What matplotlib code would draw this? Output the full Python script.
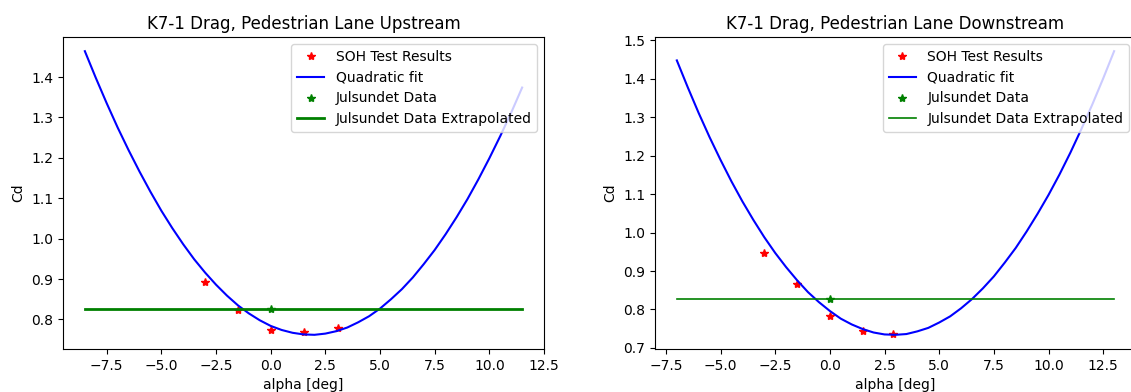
import numpy as np
import matplotlib
matplotlib.use("Agg")
import matplotlib.pyplot as plt

# Upstream panel
up_alpha = [-3.0, -1.5, 0.0, 1.5, 3.1]
up_cd = [0.892, 0.824, 0.775, 0.769, 0.779]
up_fit_alpha = [-8.5, -8, -7.5, -7, -6.5, -6, -5.5, -5, -4.5, -4, -3.5, -3, -2.5, -2,
                -1.5, -1, -0.5, 0, 0.5, 1, 1.5, 2, 2.5, 3, 3.5, 4, 4.5, 5, 5.5, 6,
                6.5, 7, 7.5, 8, 8.5, 9, 9.5, 10, 10.5, 11, 11.5]
up_fit_cd = [1.464, 1.398, 1.335, 1.275, 1.219, 1.166, 1.116, 1.069, 1.026, 0.986, 0.949,
             0.916, 0.886, 0.859, 0.835, 0.815, 0.798, 0.784, 0.774, 0.767, 0.763, 0.762,
             0.765, 0.771, 0.780, 0.793, 0.808, 0.827, 0.850, 0.875, 0.904, 0.937, 0.972,
             1.011, 1.053, 1.098, 1.147, 1.199, 1.254, 1.312, 1.374]
up_juls_alpha = [0.0]
up_juls_cd = [0.825]
up_extrap_alpha = [-8.5, 11.5]
up_extrap_cd = [0.825, 0.825]

# Downstream panel
down_alpha = [-3.0, -1.5, 0.0, 1.5, 2.9]
down_cd = [0.948, 0.865, 0.783, 0.744, 0.736]
down_fit_alpha = [-7, -6.5, -6, -5.5, -5, -4.5, -4, -3.5, -3, -2.5, -2, -1.5, -1, -0.5,
                  0, 0.5, 1, 1.5, 2, 2.5, 3, 3.5, 4, 4.5, 5, 5.5, 6, 6.5, 7, 7.5,
                  8, 8.5, 9, 9.5, 10, 10.5, 11, 11.5, 12, 12.5, 13]
down_fit_cd = [1.448, 1.378, 1.311, 1.248, 1.189, 1.133, 1.081, 1.033, 0.988, 0.947, 0.910,
               0.876, 0.845, 0.819, 0.796, 0.776, 0.761, 0.749, 0.740, 0.735, 0.734, 0.736,
               0.743, 0.752, 0.766, 0.782, 0.803, 0.827, 0.855, 0.886, 0.922, 0.960, 1.003,
               1.049, 1.098, 1.151, 1.208, 1.269, 1.333, 1.401, 1.472]
down_juls_alpha = [0.0]
down_juls_cd = [0.826]
down_extrap_alpha = [-7.0, 13.0]
down_extrap_cd = [0.826, 0.826]

fig = plt.figure(figsize=(11.31, 3.92), dpi=100)
ax1 = fig.add_axes([0.0557, 0.1097, 0.4253, 0.7959])
ax2 = fig.add_axes([0.5791, 0.1097, 0.4253, 0.7959])

panels = [
    (ax1, "K7-1 Drag, Pedestrian Lane Upstream", up_alpha, up_cd, up_fit_alpha, up_fit_cd,
     up_juls_alpha, up_juls_cd, up_extrap_alpha, up_extrap_cd, 2.0),
    (ax2, "K7-1 Drag, Pedestrian Lane Downstream", down_alpha, down_cd, down_fit_alpha, down_fit_cd,
     down_juls_alpha, down_juls_cd, down_extrap_alpha, down_extrap_cd, 1.2),
]

for ax, title, a, cd, fa, fcd, ja, jcd, ea, ecd, glw in panels:
    ax.plot(a, cd, "r*", label="SOH Test Results")
    ax.plot(fa, fcd, "b-", lw=1.5, label="Quadratic fit")
    ax.plot(ja, jcd, "g*", label="Julsundet Data")
    ax.plot(ea, ecd, "g-", lw=glw, label="Julsundet Data Extrapolated")
    ax.set_title(title, fontsize=12)
    ax.set_xlabel("alpha [deg]")
    ax.set_ylabel("Cd")
    ax.legend(loc="upper right")

plt.savefig("out.png", dpi=100)
